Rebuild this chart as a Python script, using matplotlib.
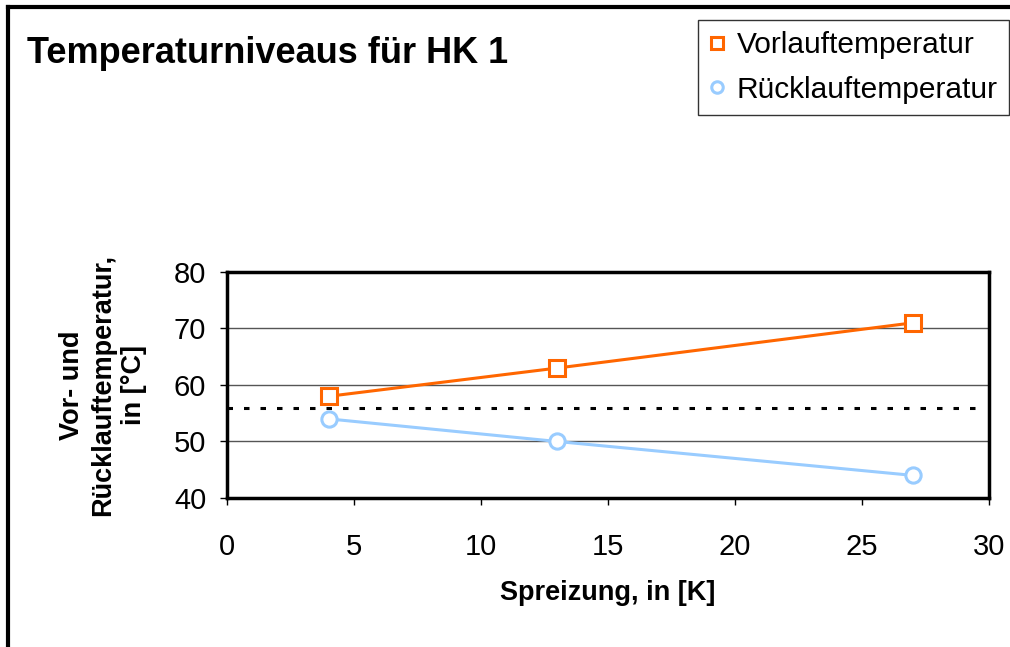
import matplotlib
matplotlib.use('Agg')
import matplotlib.pyplot as plt
from matplotlib.lines import Line2D

plt.rcParams['font.family'] = ['Liberation Sans', 'DejaVu Sans']

#data
spreizung = [4, 13, 27]
vorlauf = [58, 63, 71]
ruecklauf = [54, 50, 44]
grenze = 56

title = 'Temperaturniveaus für HK 1'
xlabel = 'Spreizung, in [K]'
ylabel = 'Vor- und\nRücklauftemperatur,\nin [°C]'

fig = plt.figure(figsize=(10.1, 6.47), dpi=100)
ax = fig.add_axes([0.2248, 0.2303, 0.7545, 0.3493])

#grid lines
for yv in [50, 60, 70]:
    ax.axhline(yv, color='#555555', lw=1.0, zorder=1)

ax.axhline(grenze, xmax=0.985, color='black', lw=2.2, ls=(0, (1.8, 3.6)), zorder=2)

ax.plot(spreizung, vorlauf, color='#FF6600', lw=2.2, marker='s', ms=11,
        mfc='white', mec='#FF6600', mew=2.2, label='Vorlauftemperatur', zorder=3)
ax.plot(spreizung, ruecklauf, color='#99CCFF', lw=2.2, marker='o', ms=11,
        mfc='white', mec='#99CCFF', mew=2.2, label='Rücklauftemperatur', zorder=3)

ax.set_xlim(0, 30)
ax.set_ylim(40, 80)
ax.set_xticks(range(0, 31, 5))
ax.set_yticks(range(40, 81, 10))
ax.tick_params(labelsize=21, length=5, width=1, direction='out')
ax.tick_params(axis='x', pad=20)
ax.tick_params(axis='y', pad=10)
for sp in ax.spines.values():
    sp.set_linewidth(2.5)

ax.set_xlabel(xlabel, fontsize=19.5, fontweight='bold', labelpad=14)
ax.set_ylabel(ylabel, fontsize=19.5, fontweight='bold', labelpad=19,
              linespacing=1.25)

fig.text(0.027, 0.917, title, fontsize=26, fontweight='bold', va='center')

leg = fig.legend(loc='upper right', bbox_to_anchor=(0.999, 0.969), fontsize=21.5,
                 frameon=True, fancybox=False, edgecolor='black',
                 handlelength=0.5, handletextpad=0.4, borderpad=0.38,
                 borderaxespad=0.0, labelspacing=0.55, markerscale=0.75)
leg.get_frame().set_linewidth(1.0)
for h in leg.get_lines():
    h.set_linestyle('None')

#outer border (left and top)
fig.add_artist(Line2D([0.0075, 0.0075], [0, 0.989], color='black', lw=3,
                      transform=fig.transFigure))
fig.add_artist(Line2D([0.0075, 1.0], [0.989, 0.989], color='black', lw=3,
                      transform=fig.transFigure))

fig.savefig('out.png', dpi=100)
